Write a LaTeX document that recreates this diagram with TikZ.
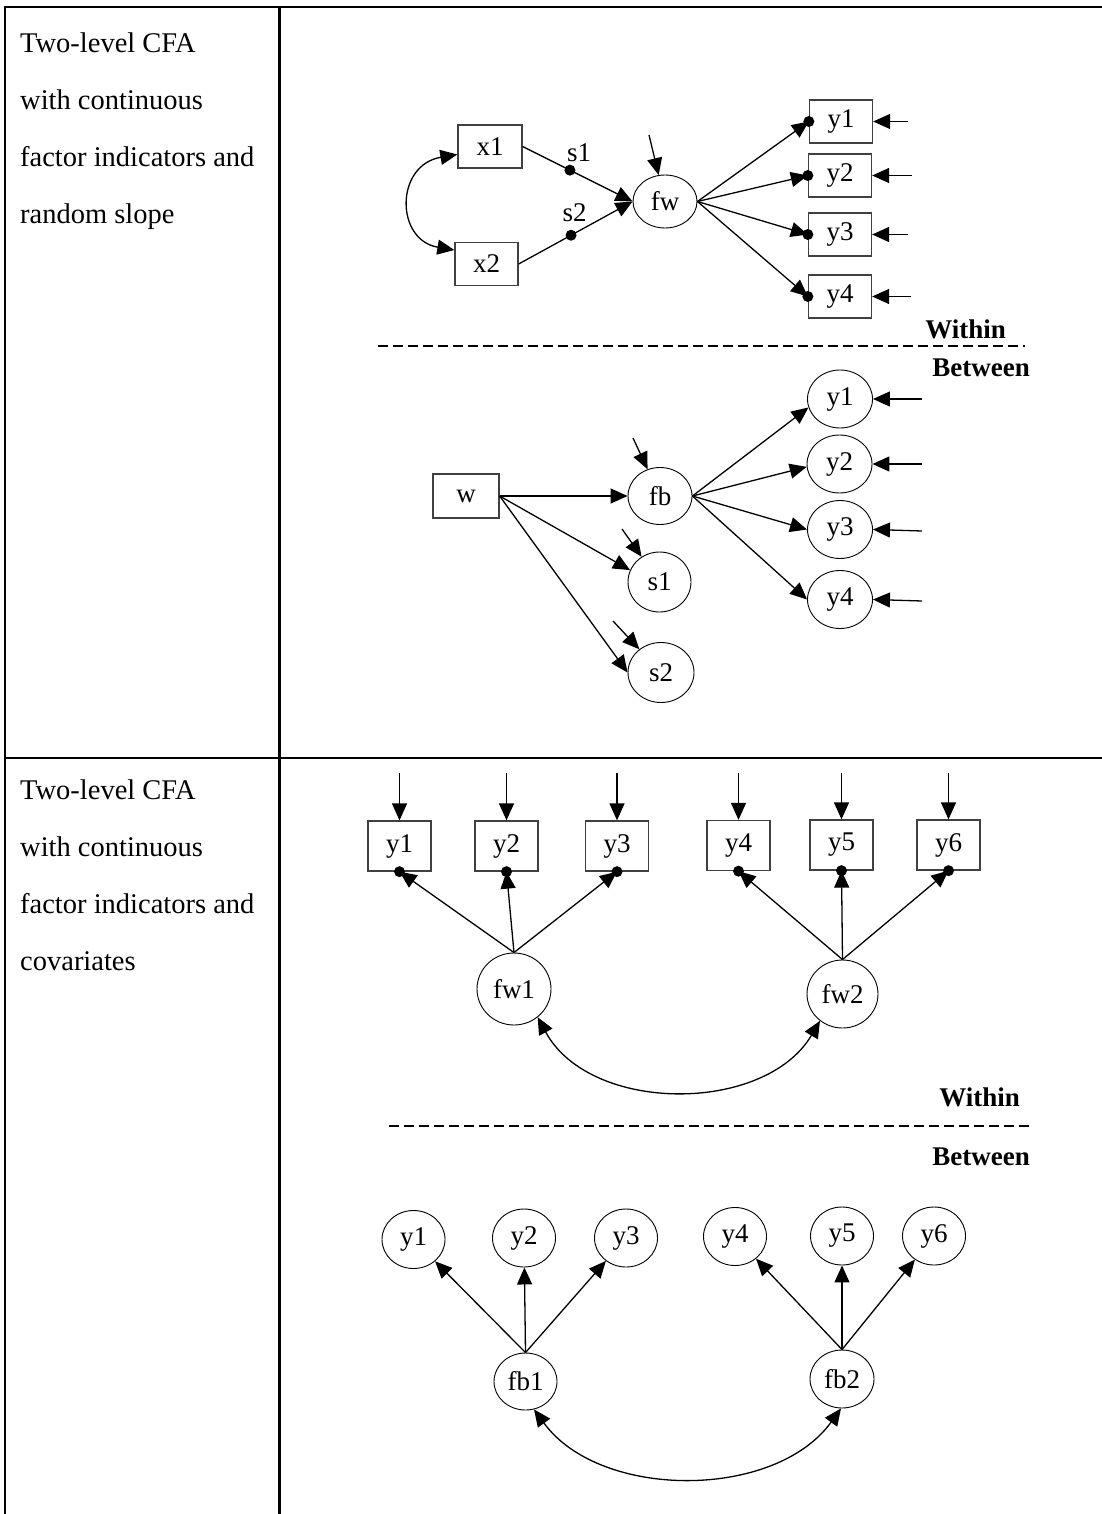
\documentclass[tikz,border=0pt]{standalone}
\usepackage{fontspec}
\setmainfont{Liberation Serif}
\usetikzlibrary{arrows.meta,shapes.geometric}
\begin{document}
\begin{tikzpicture}[x=1pt,y=-1pt,
  lbl/.style={font=\fontsize{27}{31}\selectfont},
  obs/.style={draw=black!75, line width=1.3pt, minimum width=63pt, minimum height=43pt, inner sep=0pt, lbl},
  lat/.style={draw, ellipse, line width=0.9pt, inner sep=0pt, lbl},
  arr/.style={line width=1.3pt, -{Triangle[length=17pt,width=15pt]}},
  covarr/.style={line width=1.3pt, {Triangle[length=17pt,width=15pt]}-{Triangle[length=17pt,width=15pt]}},
  dotn/.style={circle, fill, inner sep=0pt, minimum size=11pt},
  tblline/.style={line width=2.5pt},
  sidetxt/.style={font=\fontsize{28.5}{34}\selectfont, anchor=base west, inner sep=0pt},
  levtxt/.style={font=\bfseries\fontsize{27}{32}\selectfont, anchor=base east, inner sep=0pt},
  sepline/.style={line width=1.2pt, dash pattern=on 10pt off 5pt}
]
\useasboundingbox (0,0) rectangle (1102,1514);
\fill[white] (0,0) rectangle (1102,1514);

% table
\draw[tblline] (1102,7) -- (5,7) -- (5,1514);
\draw[tblline] (279.5,7) -- (279.5,1514);
\draw[tblline] (5,758) -- (1102,758);

% left column texts
\node[sidetxt] (t1a) at (20,53) {Two-level CFA};
\node[sidetxt] (t1b) at (20,110) {with continuous};
\node[sidetxt] (t1c) at (20,167) {factor indicators and};
\node[sidetxt] (t1d) at (20,224) {random slope};
\node[sidetxt] (t2a) at (20,799) {Two-level CFA};
\node[sidetxt] (t2b) at (20,856) {with continuous};
\node[sidetxt] (t2c) at (20,913) {factor indicators and};
\node[sidetxt] (t2d) at (20,970) {covariates};

% ---------- panel 1: within ----------
\node[obs, minimum width=64pt] (x1) at (490,146.5) {x1};
\node[obs] (x2) at (486.5,264) {x2};
\node[lat, minimum width=64pt, minimum height=53pt] (fw) at (665,201.5) {fw};
\node[obs] (wy1) at (841,121.5) {y1};
\node[obs] (wy2) at (840,175.5) {y2};
\node[obs] (wy3) at (840,234.5) {y3};
\node[obs] (wy4) at (840,296.5) {y4};

\draw[covarr] ([yshift=-8pt]x1.west) .. controls (395,165) and (395,240) .. ([yshift=14pt]x2.west);
\draw[arr] (x1.east) -- node[dotn, pos=0.43] (d1) {} (fw.west);
\draw[arr] (x2.east) -- node[dotn, pos=0.46] (d2) {} (fw.west);
\node[lbl] (s1lab) at (579,153) {s1};
\node[lbl] (s2lab) at (574.5,213) {s2};

\coordinate (rfw) at (649,135);
\draw[arr] (rfw) -- (fw);

\foreach \i in {1,2,3,4}{
  \draw[arr] (fw.east) -- (wy\i.west);
  \node[dotn] (wd\i) at (wy\i.west) {};
}
\coordinate (rw1) at (908,121.5);
\coordinate (rw2) at (912,175.5);
\coordinate (rw3) at (908,234.5);
\coordinate (rw4) at (911,296.5);
\foreach \i in {1,2,3,4}{
  \draw[arr] (rw\i) -- (wy\i.east);
}

\node[levtxt] (wi1) at (1006,338) {Within};
\draw[sepline] (378,346) -- (1025,346);
\node[levtxt] (be1) at (1030,376) {Between};

% ---------- panel 1: between ----------
\node[obs, minimum width=66pt, minimum height=44pt] (w) at (466,496) {w};
\node[lat, minimum width=64pt, minimum height=57pt] (fb) at (660,496) {fb};
\node[lat, minimum width=63pt, minimum height=60pt] (s1) at (659.5,582) {s1};
\node[lat, minimum width=66pt, minimum height=60pt] (s2) at (661,672.5) {s2};
\node[lat, minimum width=65pt, minimum height=58pt] (by1) at (840,399) {y1};
\node[lat, minimum width=65pt, minimum height=58pt] (by2) at (839.5,464) {y2};
\node[lat, minimum width=65pt, minimum height=58pt] (by3) at (840,529.5) {y3};
\node[lat, minimum width=65pt, minimum height=58pt] (by4) at (840,599.5) {y4};

\draw[arr] (w.east) -- (fb.west);
\draw[arr] (w.east) -- (s1.158);
\draw[arr] (w.east) -- (s2.west);
\coordinate (rfb) at (633,438);
\coordinate (rs1) at (622,529);
\coordinate (rs2) at (613,621);
\draw[arr] (rfb) -- (fb);
\draw[arr] (rs1) -- (s1);
\draw[arr] (rs2) -- (s2);

\draw[arr] (fb.east) -- (by1.195);
\draw[arr] (fb.east) -- (by2.185);
\draw[arr] (fb.east) -- (by3.west);
\draw[arr] (fb.east) -- (by4.west);
\coordinate (rb1) at (922,399);
\coordinate (rb2) at (922,464);
\coordinate (rb3) at (922,531);
\coordinate (rb4) at (922,601);
\foreach \i in {1,2,3,4}{
  \draw[arr] (rb\i) -- (by\i.east);
}

% ---------- panel 2: within ----------
\node[obs, minimum height=50pt] (vy1) at (399.5,846) {y1};
\node[obs, minimum height=50pt] (vy2) at (506.5,846) {y2};
\node[obs, minimum height=50pt] (vy3) at (617,846) {y3};
\node[obs, minimum height=50pt] (vy4) at (738.5,845.5) {y4};
\node[obs, minimum height=50pt] (vy5) at (841.5,845) {y5};
\node[obs, minimum height=50pt] (vy6) at (948.5,845) {y6};
\node[lat, minimum width=74pt, minimum height=72pt] (fw1) at (514,989) {fw1};
\node[lat, minimum width=71pt, minimum height=68pt] (fw2) at (842.5,994) {fw2};

\foreach \i/\x in {1/399.5,2/506.5,3/617,4/738.5,5/841.5,6/948.5}{
  \coordinate (rv\i) at (\x,773);
  \draw[arr] (rv\i) -- (vy\i.north);
}
\foreach \i in {1,2,3}{
  \draw[arr] (fw1.north) -- (vy\i.south);
  \node[dotn] (vd\i) at (vy\i.south) {};
}
\foreach \i in {4,5,6}{
  \draw[arr] (fw2.north) -- (vy\i.south);
  \node[dotn] (vd\i) at (vy\i.south) {};
}
\draw[covarr] (fw1.-50) .. controls (590,1114) and (765,1114) .. (fw2.-130);

\node[levtxt] (wi2) at (1020,1106) {Within};
\draw[sepline] (389,1126) -- (1030,1126);
\node[levtxt] (be2) at (1030,1165) {Between};

% ---------- panel 2: between ----------
\node[lat, minimum width=63pt, minimum height=58pt] (cy1) at (413.5,1239.5) {y1};
\node[lat, minimum width=63pt, minimum height=58pt] (cy2) at (524,1238) {y2};
\node[lat, minimum width=63pt, minimum height=58pt] (cy3) at (626,1238) {y3};
\node[lat, minimum width=63pt, minimum height=58pt] (cy4) at (735,1236.5) {y4};
\node[lat, minimum width=63pt, minimum height=58pt] (cy5) at (842,1236) {y5};
\node[lat, minimum width=63pt, minimum height=58pt] (cy6) at (934,1236) {y6};
\node[lat, minimum width=63pt, minimum height=57pt] (fb1) at (525.5,1381.5) {fb1};
\node[lat, minimum width=64pt, minimum height=58pt] (fb2) at (842,1379) {fb2};

\foreach \i in {1,2,3}{
  \draw[arr] (fb1.north) -- (cy\i);
}
\foreach \i in {4,5,6}{
  \draw[arr] (fb2.north) -- (cy\i);
}
\draw[covarr] (fb1.-73) .. controls (600,1500) and (775,1500) .. (fb2.-92);
\end{tikzpicture}
\end{document}
